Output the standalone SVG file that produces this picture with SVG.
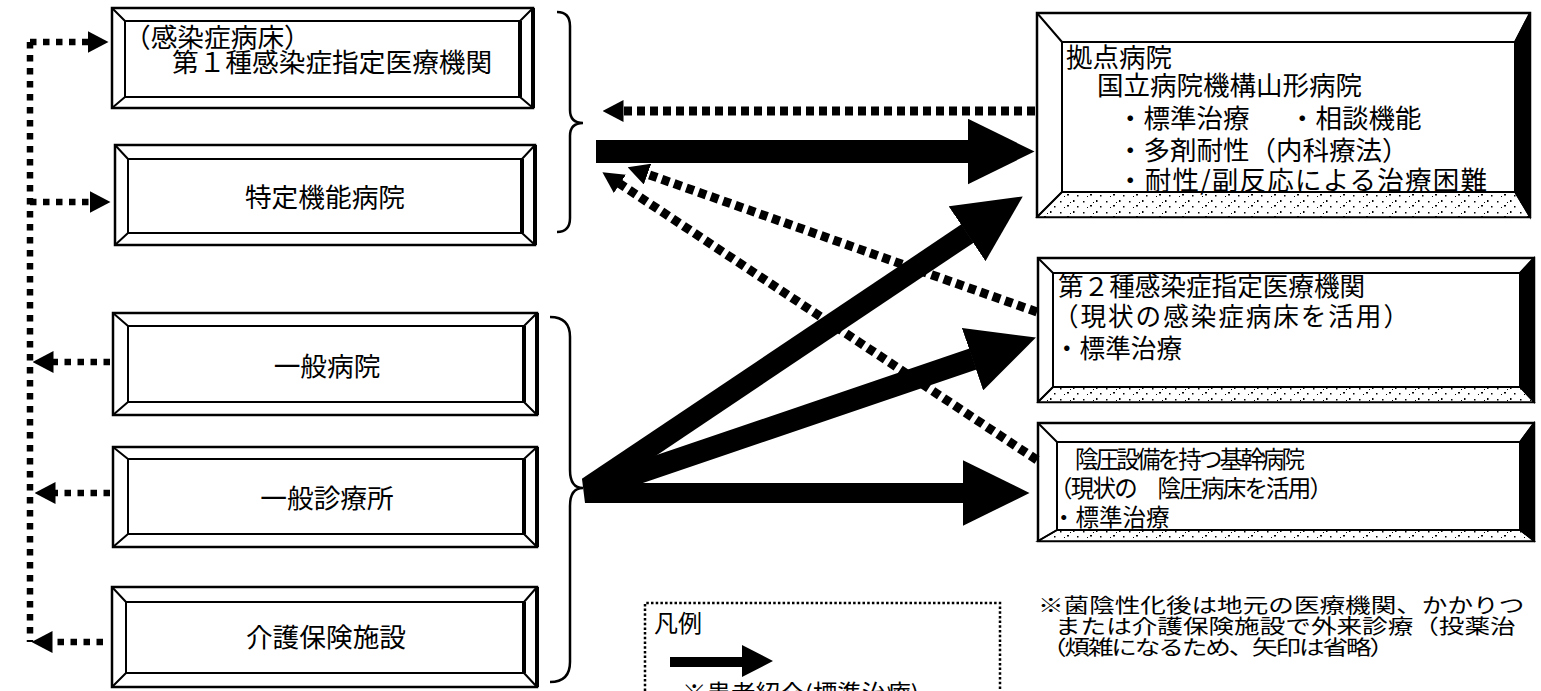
<svg xmlns="http://www.w3.org/2000/svg" width="1541" height="691" viewBox="0 0 1541 691">
<defs>
<style>
.t{font-family:"Noto Sans CJK JP","Noto Sans CJK SC",sans-serif;fill:#000}
.ob{fill:#fff;stroke:#000;stroke-width:2.5}
.ib{fill:none;stroke:#000;stroke-width:2}
.bv{fill:none;stroke:#000;stroke-width:2}
.rs{fill:none;stroke:#000;stroke-width:4}
.blk{fill:#000;stroke:#000;stroke-width:1.5}
.sp{fill:url(#speck);stroke:#000;stroke-width:1.5}
.thick{fill:none;stroke:#000}
.dotL{fill:none;stroke:#000;stroke-width:6.5;stroke-dasharray:6.5 6.5}
.dotC{fill:none;stroke:#000;stroke-width:9;stroke-dasharray:8 5}
.brace{fill:none;stroke:#000;stroke-width:2.5}
.legend{fill:none;stroke:#000;stroke-width:2.5;stroke-dasharray:2.5 2.2}
</style>
<pattern id="speck" patternUnits="userSpaceOnUse" width="23" height="11">
<rect width="23" height="11" fill="#fff"/>
<rect x="2" y="3" width="1.5" height="1.5" fill="#000"/>
<rect x="9" y="7" width="2" height="1.5" fill="#000"/>
<rect x="15" y="2" width="1.5" height="2" fill="#000"/>
<rect x="19" y="8" width="1.5" height="1.5" fill="#000"/>
<rect x="6" y="9" width="1" height="1" fill="#000"/>
<rect x="12" y="4" width="1" height="1" fill="#000"/>
</pattern>
<marker id="hBig" markerUnits="userSpaceOnUse" viewBox="0 0 67 66" refX="0.5" refY="33" markerWidth="67" markerHeight="66" orient="auto"><path d="M0,0 L67,33 L0,66 Z" fill="#000"/></marker>
<marker id="hSmall" markerUnits="userSpaceOnUse" viewBox="0 0 21 22" refX="0.5" refY="11" markerWidth="21" markerHeight="22" orient="auto"><path d="M0,0 L21,11 L0,22 Z" fill="#000"/></marker>
</defs>
<rect width="1541" height="691" fill="#fff"/>

<!-- Left boxes -->
<g id="L1">
<rect class="ob" x="112" y="8" width="421" height="100"/>
<rect class="ib" x="125" y="21" width="395" height="76"/>
<path class="bv" d="M112,8 L125,21 M533,8 L520,21 M112,108 L125,97 M533,108 L520,97"/>
<path class="rs" d="M520,21 V97 M533,8 V108"/>
<text class="t" x="124" y="47" font-size="26.7">（感染症病床）</text>
<text class="t" x="172" y="72" font-size="26.7">第１種感染症指定医療機関</text>
</g>
<g id="L2">
<rect class="ob" x="115" y="145" width="420" height="100"/>
<rect class="ib" x="128" y="159" width="394" height="74"/>
<path class="bv" d="M115,145 L128,159 M535,145 L522,159 M115,245 L128,233 M535,245 L522,233"/>
<path class="rs" d="M522,159 V233 M535,145 V245"/>
<text class="t" x="325" y="207" font-size="26.7" text-anchor="middle">特定機能病院</text>
</g>
<g id="L3">
<rect class="ob" x="113" y="313" width="424" height="102"/>
<rect class="ib" x="128" y="326" width="396" height="76"/>
<path class="bv" d="M113,313 L128,326 M537,313 L524,326 M113,415 L128,402 M537,415 L524,402"/>
<path class="rs" d="M524,326 V402 M537,313 V415"/>
<text class="t" x="327" y="376" font-size="26.7" text-anchor="middle">一般病院</text>
</g>
<g id="L4">
<rect class="ob" x="113" y="447" width="424" height="100"/>
<rect class="ib" x="128" y="459" width="396" height="75"/>
<path class="bv" d="M113,447 L128,459 M537,447 L524,459 M113,547 L128,534 M537,547 L524,534"/>
<path class="rs" d="M524,459 V534 M537,447 V547"/>
<text class="t" x="327" y="508" font-size="26.7" text-anchor="middle">一般診療所</text>
</g>
<g id="L5">
<rect class="ob" x="112" y="587" width="425" height="100"/>
<rect class="ib" x="126" y="602" width="398" height="71"/>
<path class="bv" d="M112,587 L126,602 M537,587 L524,602 M112,687 L126,673 M537,687 L524,673"/>
<path class="rs" d="M524,602 V673 M537,587 V687"/>
<text class="t" x="326" y="647" font-size="26.7" text-anchor="middle">介護保険施設</text>
</g>

<!-- Right boxes -->
<g id="R1">
<rect class="ob" x="1037" y="13" width="493" height="204"/>
<polygon class="sp" points="1037,217 1530,217 1515,192 1062,192"/>
<polygon class="blk" points="1530,13 1530,217 1515,192 1515,42"/>
<rect class="ib" x="1062" y="42" width="453" height="150"/>
<path class="bv" d="M1037,13 L1062,42 M1530,13 L1515,42 M1037,217 L1062,192"/>
<text class="t" x="1066" y="67" font-size="26.5">拠点病院</text>
<text class="t" x="1097" y="95" font-size="26.5">国立病院機構山形病院</text>
<text class="t" x="1117" y="128" font-size="26.5">・標準治療</text>
<text class="t" x="1289" y="128" font-size="26.5">・相談機能</text>
<text class="t" x="1117" y="160" font-size="26.5">・多剤耐性（内科療法）</text>
<text class="t" x="1117" y="190" font-size="26.5" textLength="370">・耐性/副反応による治療困難</text>
</g>
<g id="R2">
<rect class="ob" x="1038" y="258" width="496" height="144"/>
<polygon class="sp" points="1038,402 1534,402 1520,387 1053,387"/>
<polygon class="blk" points="1534,258 1534,402 1520,387 1520,273"/>
<rect class="ib" x="1053" y="273" width="467" height="114"/>
<path class="bv" d="M1038,258 L1053,273 M1534,258 L1520,273 M1038,402 L1053,387"/>
<text class="t" x="1058" y="296" font-size="25.6">第２種感染症指定医療機関</text>
<text class="t" x="1053" y="326" font-size="25.6" textLength="356">（現状の感染症病床を活用）</text>
<text class="t" x="1054" y="358" font-size="25.6">・標準治療</text>
</g>
<g id="R3">
<rect class="ob" x="1038" y="423" width="496" height="118"/>
<polygon class="sp" points="1038,541 1534,541 1520,530 1057,530"/>
<polygon class="blk" points="1534,423 1534,541 1520,530 1520,442"/>
<rect class="ib" x="1057" y="442" width="463" height="88"/>
<path class="bv" d="M1038,423 L1057,442 M1534,423 L1520,442 M1038,541 L1057,530"/>
<text class="t" x="1075" y="468" font-size="23.5" textLength="230">陰圧設備を持つ基幹病院</text>
<text class="t" x="1049" y="497" font-size="23.5" textLength="284">（現状の　陰圧病床を活用）</text>
<text class="t" x="1052" y="526" font-size="23.5">・標準治療</text>
</g>

<!-- Braces -->
<g id="braces">
<path class="brace" d="M557,12 Q570,12 570,26 L570,110 Q570,123 583,123 Q570,123 570,136 L570,218 Q570,232 557,232"/>
<path class="brace" d="M550,317 Q570,317 570,337 L570,470 Q570,488 583,488 Q570,488 570,506 L570,662 Q570,682 550,682"/>
</g>

<!-- Connectors -->
<g id="connectors">
<path class="dotL" d="M30,42 L30,642"/>
<path class="dotL" d="M30,42 L88,42" marker-end="url(#hSmall)"/>
<path class="dotL" d="M30,202 L90,202" marker-end="url(#hSmall)"/>
<path class="dotL" d="M110,362 L53,362" marker-end="url(#hSmall)"/>
<path class="dotL" d="M110,493 L55,493" marker-end="url(#hSmall)"/>
<path class="dotL" d="M103,642 L52,642" marker-end="url(#hSmall)"/>

<path class="dotC" d="M1035,111 L623,111" marker-end="url(#hSmall)"/>
<path class="dotC" d="M1037,312 L647,174" marker-end="url(#hSmall)"/>
<path class="dotC" d="M1037,460 L619.5,183.6" marker-end="url(#hSmall)"/>

<path class="thick" stroke-width="23" d="M596,151.5 L968,151.5" marker-end="url(#hBig)"/>
<path class="thick" stroke-width="22" d="M588,488 L967.5,233.5" marker-end="url(#hBig)"/>
<path class="thick" stroke-width="22" d="M588,490 L973,359" marker-end="url(#hBig)"/>
<path class="thick" stroke-width="20" d="M585,493 L963,493" marker-end="url(#hBig)"/>
<polygon points="582,479 596,480 596,503 585,503" fill="#000"/>
</g>

<!-- Legend -->
<g id="legend">
<path class="legend" d="M645,691 L645,603 L1000,603 L1000,691"/>
<text class="t" x="654" y="632" font-size="24">凡例</text>
<polygon points="670,657 742,657 742,645 773,661 742,677 742,667 670,667" fill="#000"/>
<text class="t" x="682" y="703" font-size="24.5">※患者紹介(標準治療)</text>
</g>

<!-- Footnote -->
<g id="note">
<text class="t" font-size="25.6" transform="translate(1038,613) scale(1,0.8)">※菌陰性化後は地元の医療機関、かかりつ</text>
<text class="t" font-size="25.6" transform="translate(1055,634) scale(1,0.8)">または介護保険施設で外来診療（投薬治</text>
<text class="t" font-size="25.6" transform="translate(1041,655) scale(1,0.8)" textLength="354">（煩雑になるため、矢印は省略）</text>
</g>
</svg>
